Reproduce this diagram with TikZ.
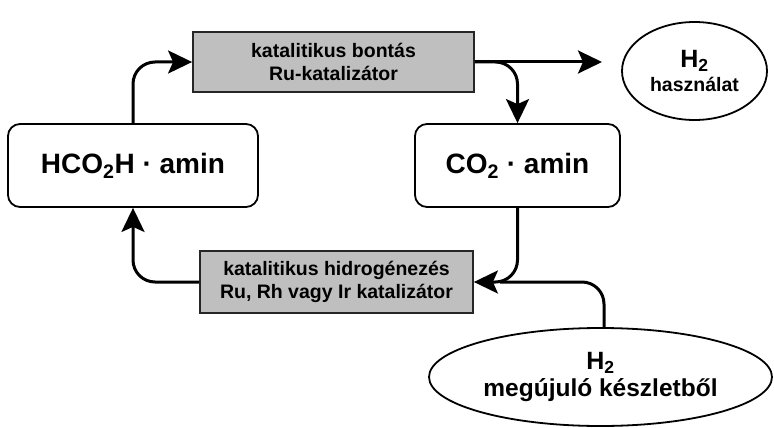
\documentclass[tikz,border=0pt]{standalone}
\usepackage{fontspec}
\setmainfont{Liberation Sans}
\usetikzlibrary{arrows.meta,shapes.geometric}
\begin{document}
\begin{tikzpicture}[x=1pt,y=-1pt,
  cbox/.style={draw=black,line width=1.8pt,rounded corners=12pt,fill=white,inner sep=0pt,
    minimum height=83pt,font=\fontsize{28}{32}\selectfont\bfseries},
  gbox/.style={draw=black!85,line width=1.8pt,fill=black!25,inner sep=0pt,align=center,
    font=\fontsize{19.5}{23.5}\selectfont\bfseries},
  ell/.style={draw=black,line width=1.8pt,ellipse,inner sep=0pt,align=center},
  conn/.style={line width=3pt,rounded corners=22pt},
  arr/.style={conn,-{Stealth[length=24pt,width=23pt,inset=5pt]}}
]
\useasboundingbox (0,0) rectangle (774,428);
\node[cbox,minimum width=250pt] (hco) at (133,165.5) {HCO\textsubscript{2}H · amin};
\node[cbox,minimum width=205pt] (co2) at (517.5,165.5) {CO\textsubscript{2} · amin};
\node[gbox,minimum width=281pt,minimum height=60pt] (top) at (333.5,62) {katalitikus bontás\\Ru-katalizátor};
\node[gbox,minimum width=273pt,minimum height=62pt] (bot) at (336.5,282) {katalitikus hidrogénezés\\Ru, Rh vagy Ir katalizátor};
\node[ell,minimum width=145pt,minimum height=98pt] (h2u) at (694.5,71)
  {{\fontsize{25}{26}\selectfont\bfseries H\textsubscript{2}}\\[4pt]{\fontsize{19.5}{22}\selectfont\bfseries használat}};
\node[ell,minimum width=343pt,minimum height=98pt] (h2b) at (600.5,377)
  {{\fontsize{25}{26}\selectfont\bfseries H\textsubscript{2}}\\[4pt]{\fontsize{24.5}{27}\selectfont\bfseries megújuló készletből}};
\coordinate (out) at (602,62);
\coordinate (join) at (500,282);
\draw[arr] (hco.north) |- (top.west);
\draw[arr] (top.east) -- (out);
\draw[arr] (top.east) -| (co2.north);
\draw[conn] (h2b.north -| 604,0) |- (join);
\draw[arr] (co2.south) |- (bot.east);
\draw[arr] (bot.west) -| (hco.south);
\end{tikzpicture}
\end{document}
